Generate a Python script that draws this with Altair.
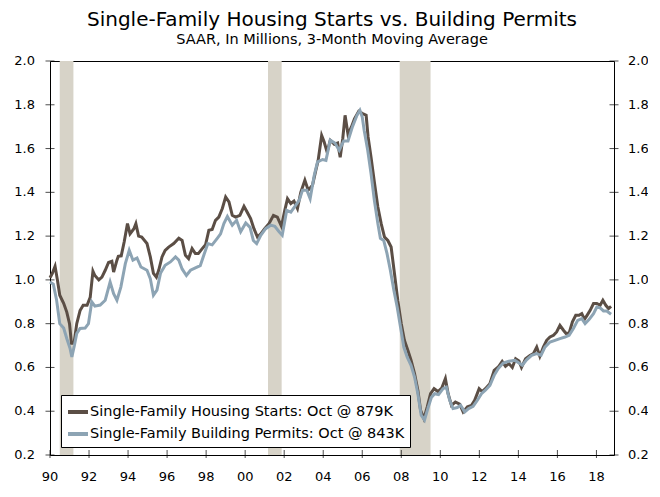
import altair as alt
import pandas as pd

STARTS_LABEL = "Single-Family Housing Starts: Oct @ 879K"
PERMITS_LABEL = "Single-Family Building Permits: Oct @ 843K"

starts_year = [1990.0, 1990.12, 1990.26, 1990.38, 1990.5, 1990.7, 1990.86, 1991.0, 1991.1, 1991.23,
               1991.37, 1991.54, 1991.7, 1991.9, 1992.06, 1992.2, 1992.3, 1992.5, 1992.66, 1992.83,
               1993.0, 1993.17, 1993.26, 1993.43, 1993.5, 1993.65, 1993.8, 1993.97, 1994.1, 1994.3,
               1994.4, 1994.54, 1994.7, 1994.97, 1995.14, 1995.3, 1995.45, 1995.57, 1995.74, 1995.9,
               1996.08, 1996.34, 1996.6, 1996.77, 1996.94, 1997.1, 1997.28, 1997.45, 1997.6, 1997.8,
               1997.97, 1998.14, 1998.31, 1998.48, 1998.65, 1998.83, 1999.0, 1999.17, 1999.34, 1999.51,
               1999.73, 1999.94, 2000.1, 2000.28, 2000.45, 2000.63, 2000.8, 2001.0, 2001.22, 2001.45,
               2001.65, 2001.86, 2002.03, 2002.17, 2002.34, 2002.5, 2002.68, 2002.85, 2003.06, 2003.23,
               2003.45, 2003.62, 2003.74, 2003.92, 2004.05, 2004.2, 2004.36, 2004.57, 2004.74, 2004.87,
               2005.0, 2005.12, 2005.27, 2005.45, 2005.6, 2005.82, 2006.02, 2006.2, 2006.3, 2006.45,
               2006.62, 2006.8, 2006.97, 2007.14, 2007.31, 2007.48, 2007.65, 2007.82, 2008.0, 2008.16,
               2008.34, 2008.5, 2008.68, 2008.85, 2008.99, 2009.16, 2009.33, 2009.5, 2009.68, 2009.88,
               2010.07, 2010.26, 2010.4, 2010.57, 2010.77, 2010.99, 2011.17, 2011.39, 2011.6, 2011.76,
               2011.99, 2012.14, 2012.31, 2012.54, 2012.76, 2012.97, 2013.17, 2013.34, 2013.51, 2013.69,
               2013.86, 2014.03, 2014.16, 2014.37, 2014.59, 2014.77, 2014.94, 2015.1, 2015.28, 2015.45,
               2015.62, 2015.8, 2015.96, 2016.13, 2016.31, 2016.44, 2016.6, 2016.77, 2016.94, 2017.11,
               2017.25, 2017.39, 2017.52, 2017.68, 2017.85, 2018.02, 2018.19, 2018.33, 2018.48, 2018.62,
               2018.75]
starts_value = [1.01, 1.03, 1.062, 1.0, 0.93, 0.893, 0.853, 0.80, 0.71, 0.71,
                0.80, 0.86, 0.884, 0.884, 0.92, 1.04, 1.02, 1.0, 1.013, 1.044,
                1.08, 1.085, 1.036, 1.09, 1.108, 1.11, 1.173, 1.257, 1.21, 1.234,
                1.257, 1.20, 1.196, 1.166, 1.105, 1.03, 1.013, 1.044, 1.105, 1.135,
                1.15, 1.166, 1.19, 1.18, 1.112, 1.097, 1.143, 1.12, 1.12, 1.143,
                1.16, 1.227, 1.23, 1.272, 1.287, 1.326, 1.379, 1.356, 1.295, 1.287,
                1.295, 1.336, 1.31, 1.28, 1.234, 1.196, 1.21, 1.234, 1.257, 1.295,
                1.287, 1.245, 1.318, 1.371, 1.349, 1.36, 1.326, 1.40, 1.455, 1.41,
                1.432, 1.50, 1.546, 1.66, 1.63, 1.584, 1.638, 1.62, 1.625, 1.56,
                1.645, 1.752, 1.665, 1.70, 1.735, 1.77, 1.76, 1.752, 1.653, 1.56,
                1.447, 1.333, 1.257, 1.196, 1.18, 1.15, 1.03, 0.907, 0.80, 0.724,
                0.678, 0.633, 0.572, 0.496, 0.404, 0.366, 0.42, 0.48, 0.503, 0.49,
                0.505, 0.549, 0.48, 0.427, 0.442, 0.432, 0.397, 0.42, 0.427, 0.45,
                0.503, 0.49, 0.503, 0.526, 0.587, 0.602, 0.628, 0.605, 0.618, 0.60,
                0.64, 0.63, 0.60, 0.64, 0.655, 0.663, 0.693, 0.651, 0.693, 0.724,
                0.739, 0.747, 0.762, 0.792, 0.77, 0.755, 0.757, 0.808, 0.838, 0.838,
                0.846, 0.82, 0.838, 0.861, 0.892, 0.892, 0.884, 0.907, 0.884, 0.869,
                0.879]

permits_year = [1990.0, 1990.17, 1990.34, 1990.5, 1990.7, 1990.86, 1991.03, 1991.12, 1991.25, 1991.37,
                1991.54, 1991.8, 1991.97, 1992.14, 1992.3, 1992.57, 1992.83, 1993.08, 1993.26, 1993.43,
                1993.63, 1993.86, 1994.06, 1994.25, 1994.46, 1994.66, 1994.97, 1995.14, 1995.3, 1995.48,
                1995.66, 1995.9, 1996.17, 1996.43, 1996.6, 1996.77, 1996.99, 1997.2, 1997.45, 1997.7,
                1997.85, 1998.09, 1998.31, 1998.57, 1998.74, 1998.91, 1999.09, 1999.34, 1999.56, 1999.77,
                2000.03, 2000.25, 2000.42, 2000.59, 2000.8, 2001.05, 2001.31, 2001.52, 2001.74, 2001.9,
                2002.13, 2002.34, 2002.55, 2002.77, 2002.94, 2003.16, 2003.33, 2003.54, 2003.71, 2003.97,
                2004.14, 2004.36, 2004.6, 2004.82, 2005.05, 2005.27, 2005.5, 2005.73, 2005.88, 2006.0,
                2006.1, 2006.28, 2006.45, 2006.62, 2006.8, 2006.93, 2007.1, 2007.27, 2007.44, 2007.62,
                2007.79, 2007.96, 2008.13, 2008.3, 2008.5, 2008.68, 2008.85, 2009.02, 2009.19, 2009.36,
                2009.54, 2009.71, 2009.91, 2010.14, 2010.31, 2010.48, 2010.65, 2010.87, 2011.04, 2011.25,
                2011.45, 2011.68, 2011.9, 2012.11, 2012.31, 2012.54, 2012.76, 2012.97, 2013.22, 2013.51,
                2013.82, 2014.03, 2014.2, 2014.42, 2014.68, 2014.94, 2015.16, 2015.36, 2015.62, 2015.88,
                2016.13, 2016.39, 2016.6, 2016.82, 2017.04, 2017.25, 2017.42, 2017.63, 2017.85, 2018.02,
                2018.19, 2018.36, 2018.53, 2018.75]
permits_value = [0.99, 0.98, 0.907, 0.80, 0.78, 0.732, 0.686, 0.648, 0.70, 0.755,
                 0.778, 0.78, 0.80, 0.90, 0.88, 0.885, 0.907, 0.99, 0.937, 0.907,
                 0.967, 1.074, 1.135, 1.09, 1.10, 1.059, 1.044, 1.006, 0.93, 0.953,
                 1.03, 1.067, 1.082, 1.105, 1.09, 1.05, 1.02, 1.044, 1.055, 1.065,
                 1.105, 1.166, 1.16, 1.19, 1.21, 1.257, 1.29, 1.25, 1.272, 1.22,
                 1.26, 1.24, 1.18, 1.166, 1.204, 1.234, 1.25, 1.245, 1.22, 1.204,
                 1.318, 1.31, 1.336, 1.364, 1.41, 1.41, 1.371, 1.478, 1.539, 1.55,
                 1.546, 1.638, 1.625, 1.592, 1.635, 1.635, 1.70, 1.752, 1.775, 1.744,
                 1.683, 1.592, 1.486, 1.364, 1.257, 1.19, 1.18, 1.12, 1.044, 0.953,
                 0.876, 0.785, 0.693, 0.648, 0.61, 0.556, 0.48, 0.382, 0.36, 0.412,
                 0.463, 0.48, 0.476, 0.503, 0.51, 0.45, 0.412, 0.417, 0.427, 0.397,
                 0.412, 0.422, 0.45, 0.48, 0.496, 0.518, 0.564, 0.595, 0.62, 0.628,
                 0.633, 0.62, 0.61, 0.635, 0.655, 0.663, 0.655, 0.693, 0.716, 0.724,
                 0.732, 0.739, 0.747, 0.778, 0.815, 0.823, 0.80, 0.82, 0.846, 0.876,
                 0.872, 0.858, 0.858, 0.843]

recession_start = [1990.5, 2001.17, 2007.92]
recession_end = [1991.2, 2001.87, 2009.5]

x_ticks = list(range(1990, 2019, 2))
x_tick_labels = ["90", "92", "94", "96", "98", "00", "02", "04", "06", "08", "10", "12", "14", "16", "18"]
y_ticks = [0.2, 0.4, 0.6, 0.8, 1.0, 1.2, 1.4, 1.6, 1.8, 2.0]
X_MIN, X_MAX = 1990, 2018.9
Y_MIN, Y_MAX = 0.2, 2.0

FONT = "DejaVu Sans"
STARTS_COLOR = "#5B4E45"
PERMITS_COLOR = "#8DA4B4"
REC_COLOR = "#D7D3C8"

starts_df = pd.DataFrame({"year": starts_year, "value": starts_value, "series": STARTS_LABEL})
permits_df = pd.DataFrame({"year": permits_year, "value": permits_value, "series": PERMITS_LABEL})
rec_df = pd.DataFrame({"start": recession_start, "end": recession_end})
xt_df = pd.DataFrame({"tick": x_ticks, "label": x_tick_labels})
yt_df = pd.DataFrame({"tick": y_ticks})

x_scale = alt.Scale(domain=[X_MIN, X_MAX], nice=False, zero=False)
y_scale = alt.Scale(domain=[Y_MIN, Y_MAX], nice=False, zero=False)
color_scale = alt.Scale(domain=[STARTS_LABEL, PERMITS_LABEL], range=[STARTS_COLOR, PERMITS_COLOR])

rec = alt.Chart(rec_df).mark_rect(color=REC_COLOR).encode(
    x=alt.X("start:Q", scale=x_scale, axis=None),
    x2="end:Q",
)

starts_line = alt.Chart(starts_df).mark_line(strokeWidth=3).encode(
    x=alt.X("year:Q", scale=x_scale, axis=None),
    y=alt.Y("value:Q", scale=y_scale, axis=None),
    color=alt.Color("series:N", scale=color_scale,
                    legend=alt.Legend(title=None, orient="none", legendX=11, legendY=334,
                                      symbolType="stroke", symbolSize=400, symbolStrokeWidth=4,
                                      labelFont=FONT, labelFontSize=14.5, labelColor="black",
                                      labelOffset=0, rowPadding=2, padding=5,
                                      strokeColor="black", fillColor="white",
                                      labelLimit=450)),
)

permits_line = alt.Chart(permits_df).mark_line(strokeWidth=3).encode(
    x=alt.X("year:Q", scale=x_scale, axis=None),
    y=alt.Y("value:Q", scale=y_scale, axis=None),
    color=alt.Color("series:N", scale=color_scale, legend=None),
)

# tick marks crossing the frame
x_tick_marks = alt.Chart(xt_df).mark_tick(orient="vertical", size=8, thickness=1, color="#000000",
                                          yOffset=-1).encode(
    x=alt.X("tick:Q", scale=x_scale, axis=None),
    y=alt.datum(Y_MIN, scale=y_scale, axis=None),
)
y_tick_left = alt.Chart(yt_df).mark_tick(orient="horizontal", size=9, thickness=1, color="#000000").encode(
    x=alt.datum(X_MIN, scale=x_scale, axis=None),
    y=alt.Y("tick:Q", scale=y_scale, axis=None),
)
y_tick_right = alt.Chart(yt_df).mark_tick(orient="horizontal", size=9, thickness=1, color="#000000").encode(
    x=alt.datum(X_MAX, scale=x_scale, axis=None),
    y=alt.Y("tick:Q", scale=y_scale, axis=None),
)

# tick labels as text marks
x_labels = alt.Chart(xt_df).mark_text(font=FONT, fontSize=13, color="black", baseline="top",
                                      align="center", dy=16).encode(
    x=alt.X("tick:Q", scale=x_scale, axis=None),
    y=alt.datum(Y_MIN, scale=y_scale, axis=None),
    text="label:N",
)
y_labels_left = alt.Chart(yt_df).mark_text(font=FONT, fontSize=13, color="black", baseline="middle",
                                           align="right", dx=-15).encode(
    x=alt.datum(X_MIN, scale=x_scale, axis=None),
    y=alt.Y("tick:Q", scale=y_scale, axis=None),
    text=alt.Text("tick:Q", format=".1f"),
)
y_labels_right = alt.Chart(yt_df).mark_text(font=FONT, fontSize=13, color="black", baseline="middle",
                                            align="left", dx=14).encode(
    x=alt.datum(X_MAX, scale=x_scale, axis=None),
    y=alt.Y("tick:Q", scale=y_scale, axis=None),
    text=alt.Text("tick:Q", format=".1f"),
)

chart = alt.layer(
    rec, starts_line, permits_line,
    x_tick_marks, y_tick_left, y_tick_right,
    x_labels, y_labels_left, y_labels_right,
).properties(
    width=564,
    height=394,
    padding={"left": 42, "top": 53, "right": 34, "bottom": 30},
    autosize=alt.AutoSizeParams(type="none"),
    background="white",
    title=alt.TitleParams(
        text="Single-Family Housing Starts vs. Building Permits",
        subtitle="SAAR, In Millions, 3-Month Moving Average",
        font=FONT, fontSize=20, fontWeight="normal", color="black",
        subtitleFont=FONT, subtitleFontSize=14.5, subtitleColor="black", subtitlePadding=3,
        anchor="middle", frame="group", offset=9,
    ),
).configure_view(
    stroke="black", strokeWidth=1
)

chart.save("out.html", embed_options={"renderer": "svg", "actions": False})
